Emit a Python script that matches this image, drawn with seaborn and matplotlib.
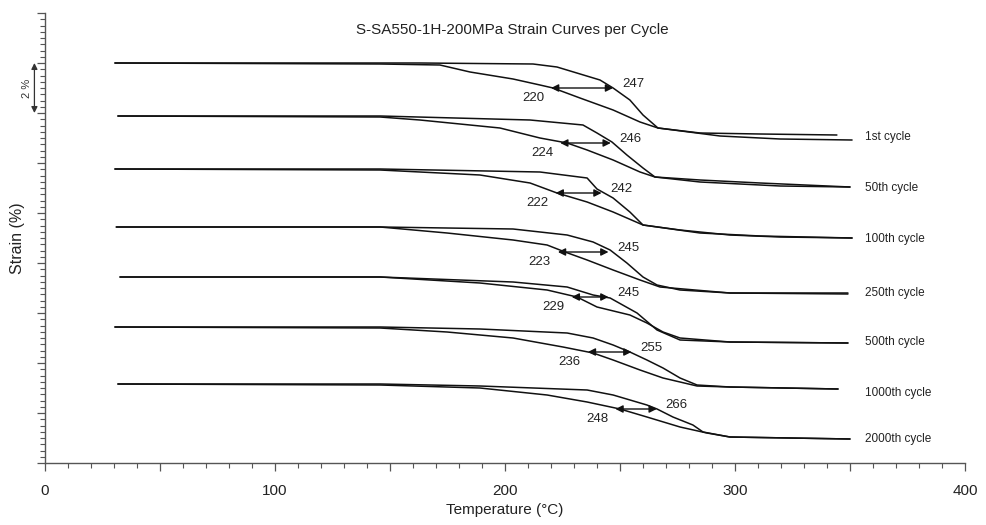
import numpy as np
import pandas as pd
import matplotlib
matplotlib.use("Agg")
import matplotlib.pyplot as plt
from matplotlib.ticker import MultipleLocator, FuncFormatter
import seaborn as sns

# ---------------- data ----------------
cycles = ["1st cycle", "50th cycle", "100th cycle", "250th cycle",
          "500th cycle", "1000th cycle", "2000th cycle"]

# branch A (stays flat longer) : temperature (°C) and strain (%, stacked offset)
up_T = [
    [30.4, 163.0, 212.2, 222.6, 241.3, 247.0, 254.3, 260.0, 266.5, 284.8, 310.9, 344.3],
    [31.7, 145.7, 210.9, 233.9, 240.0, 246.5, 253.0, 260.0, 265.2, 284.8, 310.9, 350.0],
    [30.4, 145.7, 215.2, 235.7, 240.0, 247.0, 254.3, 260.0, 276.1, 297.8, 319.6, 350.9],
    [31.0, 145.7, 203.5, 227.0, 238.3, 245.7, 253.0, 260.0, 266.1, 276.1, 297.8, 349.1],
    [32.6, 145.7, 203.5, 227.0, 238.3, 245.7, 257.4, 266.1, 276.1, 297.8, 349.1],
    [30.4, 145.7, 189.1, 227.0, 238.3, 247.0, 254.3, 261.7, 268.7, 276.1, 283.5, 297.8, 344.8],
    [31.7, 145.7, 189.1, 235.7, 247.0, 261.7, 266.1, 273.0, 281.7, 286.1, 297.8, 350.0],
]
up_S = [
    [16.0, 16.0, 15.96, 15.84, 15.32, 15.0, 14.52, 13.92, 13.4, 13.2, 13.16, 13.12],
    [13.88, 13.88, 13.72, 13.52, 13.2, 12.84, 12.32, 11.8, 11.44, 11.32, 11.2, 11.04],
    [11.76, 11.76, 11.64, 11.4, 10.96, 10.6, 10.04, 9.52, 9.32, 9.12, 9.04, 9.0],
    [9.44, 9.44, 9.36, 9.12, 8.84, 8.52, 8.0, 7.44, 7.12, 6.92, 6.8, 6.8],
    [7.44, 7.44, 7.24, 7.04, 6.72, 6.6, 6.0, 5.32, 4.92, 4.84, 4.8],
    [5.44, 5.44, 5.36, 5.2, 5.0, 4.72, 4.44, 4.12, 3.8, 3.4, 3.12, 3.04, 2.96],
    [3.16, 3.16, 3.08, 2.92, 2.72, 2.32, 2.16, 1.84, 1.52, 1.24, 1.04, 0.96],
]
# branch B (drops earlier)
lo_T = [
    [30.4, 145.7, 171.7, 184.8, 203.5, 215.2, 220.9, 232.6, 247.0, 258.7, 266.5, 293.5, 319.6, 350.9],
    [31.7, 145.7, 163.0, 197.8, 215.2, 227.0, 235.7, 247.0, 258.7, 265.2, 284.8, 319.6, 350.0],
    [30.4, 145.7, 189.1, 210.9, 222.6, 235.7, 247.0, 260.0, 284.8, 310.9, 350.9],
    [31.0, 145.7, 174.8, 203.5, 218.3, 226.1, 235.7, 247.0, 258.7, 267.4, 297.8, 349.1],
    [32.6, 145.7, 189.1, 218.3, 231.3, 240.0, 254.3, 261.7, 268.7, 276.1, 297.8, 349.1],
    [30.4, 145.7, 174.8, 203.5, 225.2, 238.3, 247.0, 258.7, 268.7, 283.5, 297.8, 344.8],
    [31.7, 145.7, 189.1, 218.3, 235.7, 250.0, 261.7, 276.1, 287.8, 297.8, 350.0],
]
lo_S = [
    [16.0, 15.96, 15.92, 15.64, 15.36, 15.12, 15.0, 14.6, 14.12, 13.64, 13.4, 13.08, 12.96, 12.92],
    [13.88, 13.84, 13.72, 13.4, 13.0, 12.8, 12.52, 12.12, 11.64, 11.44, 11.24, 11.08, 11.04],
    [11.76, 11.72, 11.52, 11.2, 10.8, 10.44, 10.04, 9.52, 9.2, 9.08, 9.0],
    [9.44, 9.44, 9.2, 8.92, 8.72, 8.44, 8.12, 7.72, 7.32, 7.04, 6.8, 6.76],
    [7.44, 7.44, 7.2, 6.92, 6.64, 6.24, 5.92, 5.6, 5.24, 5.0, 4.84, 4.8],
    [5.44, 5.4, 5.24, 5.0, 4.64, 4.4, 4.12, 3.72, 3.4, 3.08, 3.04, 2.96],
    [3.16, 3.12, 3.0, 2.72, 2.44, 2.16, 1.84, 1.44, 1.2, 1.04, 0.96],
]

# hysteresis annotations
t_low = [220, 224, 222, 223, 229, 236, 248]
t_high = [247, 246, 242, 245, 245, 255, 266]
arrow_S = [15.0, 12.8, 10.8, 8.44, 6.64, 4.44, 2.16]
label_S = [13.04, 11.0, 8.96, 6.8, 4.84, 2.8, 0.96]
label_T = 356.5

title = "S-SA550-1H-200MPa Strain Curves per Cycle"

# ---------------- build long table ----------------
rows = []
for i, c in enumerate(cycles):
    for T, S in zip(up_T[i], up_S[i]):
        rows.append((c, f"{c}-A", T, S))
    for T, S in zip(lo_T[i], lo_S[i]):
        rows.append((c, f"{c}-B", T, S))
df = pd.DataFrame(rows, columns=["cycle", "curve", "T", "S"])

# ---------------- plot ----------------
sns.set_theme(style="ticks")
plt.rcParams["font.family"] = ["Liberation Sans", "DejaVu Sans"]

fig = plt.figure(figsize=(9.86, 5.25), dpi=100)
ax = fig.add_axes([45 / 986, 62 / 525, 920 / 986, 450 / 525])

sns.lineplot(data=df, x="T", y="S", units="curve", estimator=None, sort=False,
             color="#111111", linewidth=1.1, ax=ax, legend=False)

ax.set_xlim(0, 400)
ax.set_ylim(0, 18)

for i in range(len(cycles)):
    ax.annotate("", xy=(t_high[i], arrow_S[i]), xytext=(t_low[i], arrow_S[i]),
                arrowprops=dict(arrowstyle="<|-|>", color="#111111", lw=1.0,
                                mutation_scale=11, shrinkA=0, shrinkB=0))
    ax.annotate(str(t_low[i]), xy=(t_low[i], arrow_S[i]), xytext=(-7, -10),
                textcoords="offset pixels", ha="right", va="center",
                fontsize=9.5, color="#222222")
    ax.annotate(str(t_high[i]), xy=(t_high[i], arrow_S[i]), xytext=(9, 4),
                textcoords="offset pixels", ha="left", va="center",
                fontsize=9.5, color="#222222")
    ax.text(label_T, label_S[i], cycles[i], ha="left", va="center",
            fontsize=8.5, color="#222222")

# 2 % scale bar
ax.annotate("", xy=(-4.6, 16.0), xytext=(-4.6, 14.0),
            arrowprops=dict(arrowstyle="<|-|>", color="#333333", lw=0.9,
                            mutation_scale=9, shrinkA=0, shrinkB=0),
            annotation_clip=False)
ax.text(-8.0, 15.0, "2 %", rotation=90, ha="center", va="center",
        fontsize=8, color="#333333", clip_on=False)

ax.text(0.508, 0.962, title, transform=ax.transAxes, ha="center", va="center",
        fontsize=11, color="#222222")

ax.set_xlabel("Temperature (°C)", fontsize=11, color="#222222", labelpad=4)
ax.set_ylabel("Strain (%)", fontsize=11.5, color="#222222")
ax.yaxis.set_label_coords(-0.022, 0.5)

ax.xaxis.set_major_locator(MultipleLocator(50))
ax.xaxis.set_minor_locator(MultipleLocator(10))
ax.xaxis.set_major_formatter(FuncFormatter(lambda v, p: f"{int(v)}" if v % 100 == 0 else ""))
ax.yaxis.set_major_locator(MultipleLocator(2))
ax.yaxis.set_minor_locator(MultipleLocator(0.25))
ax.set_yticklabels([])

for side in ("top", "right"):
    ax.spines[side].set_visible(False)
for side in ("left", "bottom"):
    ax.spines[side].set_color("#555555")
    ax.spines[side].set_linewidth(1.0)

ax.tick_params(axis="both", which="major", length=6, width=0.9, color="#555555",
               labelsize=11, labelcolor="#222222", direction="out")
ax.tick_params(axis="both", which="minor", length=3.5, width=0.8, color="#555555",
               direction="out")
ax.tick_params(axis="x", which="major", pad=9)

fig.savefig("out.png", dpi=100)
